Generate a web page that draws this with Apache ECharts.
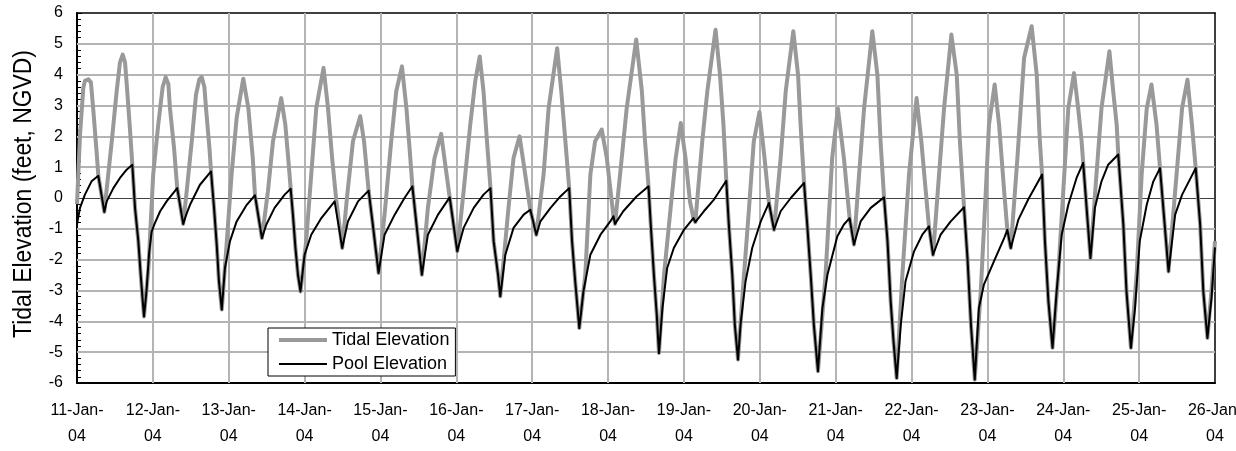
<!DOCTYPE html>
<html>
<head>
<meta charset="utf-8">
<script src="https://cdn.jsdelivr.net/npm/echarts@6/dist/echarts.min.js"></script>
<style>
html,body{margin:0;padding:0;background:#fff;}
#c{width:1236px;height:451px;}
</style>
</head>
<body>
<div id="c"></div>
<script>
// Tick labels (one per day, hours 0..360 step 24)
const dayLabels = ['11-Jan-04','12-Jan-04','13-Jan-04','14-Jan-04','15-Jan-04','16-Jan-04','17-Jan-04','18-Jan-04',
  '19-Jan-04','20-Jan-04','21-Jan-04','22-Jan-04','23-Jan-04','24-Jan-04','25-Jan-04','26-Jan-04'];
const yTicks = [-6,-5,-4,-3,-2,-1,0,1,2,3,4,5,6];
const seriesNames = ['Tidal Elevation', 'Pool Elevation'];
const yTitle = 'Tidal Elevation (feet, NGVD)';

// Tidal elevation: hours since 11-Jan-04 00:00, feet NGVD
const tidalHours = [0,0.95,2.0,2.5,3.6,4.4,5.2,6.2,6.75,8.65,9.4,11.0,12.55,13.6,14.45,15.2,15.9,16.8,17.5,18.35,19.4,20.15,20.8,21.2,
  22.6,24.1,25.7,27.1,28.06,28.9,29.4,30.7,31.7,33.6,34.7,36.3,37.65,38.7,39.45,40.3,40.8,41.9,42.4,43.35,44.2,44.9,45.8,
  47.4,48.9,50.5,52.6,54.2,55.6,56.3,58.5,60.4,62.0,64.6,65.9,66.9,67.6,68.3,69.1,69.9,70.7,
  72.5,74.1,75.7,78.0,79.4,80.7,82.0,83.9,85.5,87.3,89.6,90.8,92.25,93.5,95.4,
  97.5,99.4,101.0,102.8,104.2,105.2,106.1,109.1,111.0,113.1,115.2,116.5,117.9,120.3,
  122.3,124.4,126.0,127.4,128.6,129.7,130.8,131.8,133.2,133.9,136.5,138.1,140.0,141.5,143.4,145.3,
  147.6,149.2,151.9,153.2,154.5,155.7,156.6,157.6,158.9,160.8,162.4,163.9,166.0,167.6,169.7,170.2,
  171.8,173.9,176.9,178.7,179.7,180.8,181.5,182.5,183.4,184.1,185.7,187.8,189.4,191.0,192.5,193.9,195.0,195.6,
  197.8,199.4,202.0,203.4,204.5,205.4,206.2,207.3,208.1,209.1,211.0,212.6,214.1,215.9,217.5,218.9,220.5,
  222.6,224.2,226.6,228.1,228.9,230.0,231.0,232.1,233.1,234.4,236.8,238.9,240.7,242.6,244.4,245.8,
  247.4,249.0,251.6,253.2,254.2,255.3,256.4,257.4,258.3,259.3,261.1,263.2,265.6,267.1,268.5,269.5,270.8,
  272.7,274.3,276.6,278.3,279.3,280.6,281.7,282.8,284.0,285.9,287.5,288.5,290.3,291.7,293.3,294.3,295.4,
  297.5,299.6,302.0,303.6,304.6,305.3,306.2,307.3,308.6,310.4,312.0,313.6,315.4,316.7,317.8,318.3,320.6,
  322.5,324.1,326.6,327.8,328.9,329.4,331.0,332.0,333.4,335.2,336.8,338.4,339.9,341.5,342.6,345.3,
  347.4,349.6,351.3,352.7,353.9,355.3,356.3,357.6,358.9,360];
const tidalElev = [-0.2,2.05,3.57,3.8,3.85,3.75,2.8,1.5,0.72,-0.45,0.3,1.84,3.46,4.4,4.65,4.4,3.46,2.16,1.08,-0.32,-1.4,-2.49,-3.35,-3.84,
  -2.27,0.76,2.38,3.6,3.92,3.7,2.92,1.62,0.32,-0.84,0.22,1.84,3.35,3.85,3.92,3.6,2.92,1.62,0.86,-0.32,-1.51,-2.7,-3.62,
  -1.4,0.76,2.6,3.87,2.92,1.3,0.09,-1.3,0.22,1.84,3.24,2.38,1.19,0.3,-0.54,-1.62,-2.49,-3.03,
  -1.4,0.76,2.92,4.22,2.92,1.3,-0.05,-1.62,0.11,1.84,2.65,1.84,0.24,-0.8,-2.43,
  -0.32,1.84,3.46,4.27,2.92,1.62,0.38,-2.49,-0.32,1.3,2.08,1.08,0.02,-1.73,
  0.22,2.38,3.8,4.59,3.46,1.84,0.32,-1.4,-2.49,-3.19,-0.32,1.3,2.0,0.97,-0.38,-1.19,
  0.76,2.92,4.86,3.46,1.84,0.32,-1.4,-2.7,-4.22,-2.49,0.76,1.84,2.22,1.3,-0.59,-0.84,
  0.76,2.92,5.14,3.46,1.84,0.38,-0.86,-2.49,-3.78,-5.03,-2.49,-0.32,1.3,2.43,1.3,-0.11,-0.65,-0.78,
  1.84,3.46,5.46,4.0,2.38,0.56,-0.86,-2.49,-4.11,-5.24,-2.49,-0.32,1.84,2.79,1.3,-0.16,-1.03,
  1.3,3.46,5.41,4.0,2.38,0.49,-0.86,-2.49,-4.11,-5.62,-2.49,1.3,2.9,1.3,-0.65,-1.51,
  0.76,2.92,5.41,4.0,1.84,0.02,-1.4,-3.35,-4.65,-5.84,-2.49,0.76,3.24,1.84,0.22,-0.92,-1.84,
  0.76,2.92,5.3,4.0,1.84,-0.3,-1.95,-4.11,-5.89,-3.03,0.22,2.38,3.68,2.38,0.22,-1.03,-1.62,
  1.3,4.54,5.57,4.0,1.84,0.76,-1.4,-3.35,-4.86,-2.49,0.22,2.92,4.05,2.92,1.84,1.14,-1.95,
  0.76,2.92,4.76,3.46,2.38,1.41,-0.86,-3.03,-4.86,-2.49,0.76,2.9,3.68,2.38,0.97,-2.38,
  0.22,2.92,3.84,2.38,0.97,-0.86,-3.03,-4.54,-3.0,-1.4];

// Pool elevation: hours since 11-Jan-04 00:00, feet NGVD
const poolHours = [0,0.95,2.5,4.6,6.75,8.65,9.4,11.5,13.6,15.7,17.5,18.35,19.4,20.15,20.8,21.2,
  22.0,22.8,23.6,24.5,26.3,28.4,31.7,33.6,34.7,35.75,38.9,42.4,43.35,44.2,44.9,45.8,
  46.8,48.4,50.5,53.7,56.3,58.5,59.9,62.5,65.7,67.6,68.3,69.1,69.9,70.7,
  72.0,74.1,77.3,81.5,82.0,83.9,85.7,88.9,92.25,93.5,95.4,
  97.3,100.5,103.6,106.1,109.1,111.0,114.2,117.9,120.3,
  122.3,125.5,128.6,130.8,131.8,133.2,133.9,135.5,138.1,141.3,143.4,145.3,
  146.6,149.8,152.9,155.7,156.6,157.6,158.9,160.2,162.4,165.6,168.7,169.7,170.2,
  172.8,177.0,180.8,181.5,182.5,183.4,184.1,185.2,186.7,188.8,192.0,195.0,195.6,
  198.3,201.5,205.4,206.2,207.3,208.1,209.1,209.9,211.5,213.6,216.3,218.9,220.5,
  222.6,225.8,230.0,231.0,232.1,233.1,234.4,235.8,237.4,240.5,242.6,244.4,245.8,
  247.9,251.1,255.3,256.4,257.4,258.3,259.3,260.6,262.1,264.8,267.4,269.5,270.8,
  273.2,276.4,280.6,281.7,282.8,284.0,285.3,286.9,290.1,293.3,294.3,295.4,
  297.8,300.9,305.3,306.2,307.3,308.6,309.9,311.5,313.6,316.2,318.3,320.6,
  322.0,324.1,326.2,329.4,331.0,332.0,333.4,334.7,336.2,338.4,340.5,342.6,345.3,
  347.4,349.6,353.9,355.3,356.3,357.6,358.9,360];
const poolElev = [-0.85,-0.32,0.11,0.54,0.72,-0.45,-0.11,0.32,0.65,0.92,1.08,-0.32,-1.4,-2.49,-3.35,-3.84,
  -3.0,-1.8,-1.1,-0.85,-0.43,-0.1,0.32,-0.84,-0.5,-0.22,0.43,0.86,-0.32,-1.51,-2.7,-3.62,
  -2.27,-1.4,-0.76,-0.22,0.09,-1.3,-0.86,-0.32,0.11,0.3,-0.54,-1.62,-2.49,-3.03,
  -1.84,-1.19,-0.65,-0.11,-0.05,-1.62,-0.76,-0.11,0.24,-0.8,-2.43,
  -1.19,-0.54,0.0,0.38,-2.49,-1.19,-0.54,0.02,-1.73,
  -0.97,-0.32,0.11,0.32,-1.4,-2.49,-3.19,-1.84,-0.97,-0.54,-0.38,-1.19,
  -0.76,-0.32,0.05,0.32,-1.4,-2.7,-4.22,-3.03,-1.84,-1.19,-0.76,-0.59,-0.84,
  -0.43,0.05,0.38,-0.86,-2.49,-3.78,-5.03,-3.57,-2.27,-1.62,-1.03,-0.65,-0.78,
  -0.43,-0.05,0.56,-0.86,-2.49,-4.11,-5.24,-4.11,-2.7,-1.62,-0.76,-0.16,-1.03,
  -0.43,0.0,0.49,-0.86,-2.49,-4.11,-5.62,-3.57,-2.49,-1.25,-0.86,-0.65,-1.51,
  -0.76,-0.32,0.02,-1.4,-3.35,-4.65,-5.84,-4.11,-2.7,-1.73,-1.19,-0.92,-1.84,
  -1.19,-0.76,-0.3,-1.95,-4.11,-5.89,-3.57,-2.81,-2.05,-1.3,-1.03,-1.62,
  -0.7,-0.05,0.76,-1.4,-3.35,-4.86,-3.03,-1.19,-0.22,0.65,1.14,-1.95,
  -0.32,0.54,1.08,1.41,-0.86,-3.03,-4.86,-3.57,-1.4,-0.22,0.54,0.97,-2.38,
  -0.54,0.11,0.97,-0.86,-3.03,-4.54,-3.24,-1.6];

const pairs = (xs, ys) => xs.map((x, i) => [x, ys[i]]);
const FONT = 'Liberation Sans, Arial, sans-serif';
const GRID_STYLE = {color: '#b4b4b4', width: 2, type: 'solid'};

// Gridlines at every day and every integer foot (inner ones), zero line drawn last and darker
const gridLineData = []
  .concat(dayLabels.slice(1, -1).map((_, i) => ({xAxis: (i + 1) * 24, lineStyle: GRID_STYLE})))
  .concat(yTicks.slice(1, -1).filter(v => v !== 0).map(v => ({yAxis: v, lineStyle: GRID_STYLE})))
  .concat([{yAxis: 0, lineStyle: {color: '#404040', width: 1, type: 'solid'}}]);

const chart = echarts.init(document.getElementById('c'));
chart.setOption({
  animation: false,
  textStyle: {fontFamily: FONT, color: '#000'},
  grid: {left: 77, right: 21, top: 13, bottom: 68, outerBoundsMode: 'none', show: false},
  legend: {
    data: [
      {name: seriesNames[0], icon: 'path://M0,0H48V4H0Z'},
      {name: seriesNames[1], icon: 'path://M0,0H48V2H0Z'}
    ],
    orient: 'vertical',
    left: 268, top: 328, z: 10,
    itemWidth: 48, itemHeight: 14, itemGap: 4,
    padding: [2, 6, 2, 11],
    backgroundColor: '#fff', borderColor: '#000', borderWidth: 1, borderRadius: 0,
    textStyle: {fontSize: 18, color: '#000', fontFamily: FONT, lineHeight: 20}
  },
  xAxis: [
    {
      type: 'value', min: 0, max: 360, interval: 24, position: 'bottom',
      axisLine: {show: true, onZero: false, lineStyle: {color: '#000', width: 2}},
      axisTick: {show: false},
      splitLine: {show: false},
      axisLabel: {
        fontSize: 16, lineHeight: 26, margin: 15, color: '#000', fontFamily: FONT,
        showMinLabel: true, showMaxLabel: true, hideOverlap: false,
        formatter: v => {
          const s = dayLabels[Math.round(v / 24)] || '';
          const k = s.lastIndexOf('-') + 1;
          return s.slice(0, k) + '\n' + s.slice(k);
        }
      }
    },
    {
      type: 'value', min: 0, max: 360, interval: 24, position: 'top',
      axisLine: {show: true, onZero: false, lineStyle: {color: '#000', width: 1.5}},
      axisTick: {show: false}, axisLabel: {show: false}, splitLine: {show: false}
    }
  ],
  yAxis: [
    {
      type: 'value', min: -6, max: 6, interval: 1, position: 'left',
      axisLine: {show: true, onZero: false, lineStyle: {color: '#000', width: 2}},
      axisTick: {show: true, inside: true, length: 5, lineStyle: {color: '#000', width: 1}},
      minorTick: {show: true, splitNumber: 5, length: 4, lineStyle: {color: '#000', width: 1}},
      splitLine: {show: false},
      axisLabel: {fontSize: 16, margin: 14, color: '#000', fontFamily: FONT}
    },
    {
      type: 'value', min: -6, max: 6, interval: 1, position: 'right',
      axisLine: {show: true, onZero: false, lineStyle: {color: '#000', width: 1.5}},
      axisTick: {show: false}, axisLabel: {show: false}, splitLine: {show: false}
    }
  ],
  graphic: [{
    type: 'text', x: 24, y: 194, rotation: Math.PI / 2, scaleX: 0.88,
    style: {text: yTitle, font: '26px ' + FONT, fill: '#000', align: 'center', verticalAlign: 'middle'}
  }],
  series: [
    {
      name: seriesNames[0], type: 'line', xAxisIndex: 0, yAxisIndex: 0,
      data: pairs(tidalHours, tidalElev), symbol: 'none', z: 2,
      lineStyle: {color: '#999999', width: 4, join: 'round'}, itemStyle: {color: '#999999'},
      markLine: {
        silent: true, symbol: 'none', label: {show: false}, z: 1, animation: false,
        emphasis: {disabled: true},
        data: gridLineData
      }
    },
    {
      name: seriesNames[1], type: 'line', xAxisIndex: 0, yAxisIndex: 0,
      data: pairs(poolHours, poolElev), symbol: 'none', z: 3,
      lineStyle: {color: '#000000', width: 2, join: 'round'}, itemStyle: {color: '#000000'}
    }
  ]
});
</script>
</body>
</html>
